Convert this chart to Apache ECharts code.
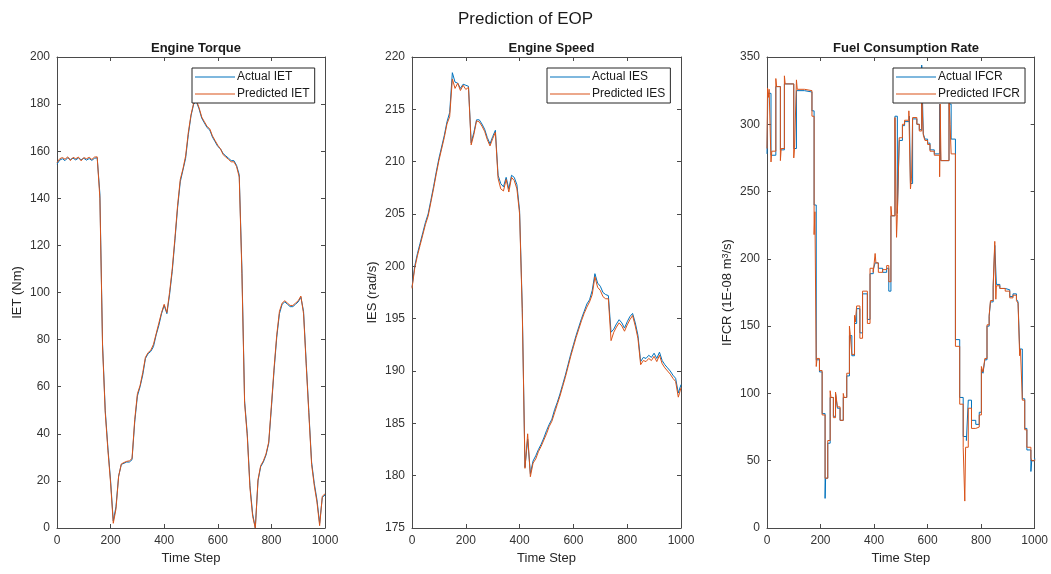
<!DOCTYPE html>
<html>
<head>
<meta charset="utf-8">
<script src="https://cdn.jsdelivr.net/npm/echarts@6/dist/echarts.min.js"></script>
<style>
  html, body { margin: 0; padding: 0; background: #fff; }
  #chart { width: 1051px; height: 574px; }
</style>
</head>
<body>
<div id="chart"></div>
<script>
// Sampling grid for torque and speed (every 10 time steps)
const timeStep = Array.from({ length: 101 }, (_, i) => i * 10);

// Engine torque (Nm)
const torqueActual = [
  154.5,156.2,156.8,156.0,157.2,156.5,157.0,156.3,157.1,156.4,
  157.0,156.2,156.9,156.1,157.0,157.2,142,78,50,34,
  20,3,9,22,27,27.5,28,28,29,45,
  56,60,65,72,74,75,77,82,86,91,
  94.5,91,99,109,122,136,147,152,157,167,
  175,180,181,178,174,172,170,169,166,164,
  162,161,159,158,157,156,156,154,150,110,
  54,40,18,6,0,20,26,28,31,36,
  51,67,81,91,95,96,95,94,94,95,
  96,98,92,70,49,28,19,12,2,13,14
];
const torquePredicted = [
  155.2,156.8,157.3,156.6,157.6,156.0,157.4,156.8,157.5,155.9,
  157.3,156.8,157.4,156.5,157.5,157.6,140,77,49,33,
  19,2,8,22,27.2,27.8,28.3,28.5,29.5,46,
  57,60.5,66,72.5,74.5,75.5,78,82.5,87,91.5,
  95,91.5,100,110,123,137,148,152.5,158,168,
  175.5,180.5,181.5,178.5,174.5,172.5,170.5,169.5,166.5,164.5,
  162.5,161,158.5,157.5,156.5,155.5,155.5,153.5,149,108,
  53,39,17,5,0,20.5,26.5,28.5,31.5,36.5,
  52,68,82,92,95.5,96.5,95.5,94.5,94.5,95.5,
  96.5,98.5,91,69,48,27,18,11,1,13.5,14.5
];

// Engine speed (rad/s)
const speedActual = [
  198.0,200.0,201.2,202.2,203.2,204.2,205.0,206.3,207.6,209.0,
  210.3,211.4,212.5,213.8,214.7,218.5,217.6,217.5,217.0,217.4,
  217.3,217.2,211.8,212.8,214.0,214.0,213.6,213.1,212.3,211.7,
  212.4,213.0,208.7,207.9,207.6,208.5,207.4,208.7,208.5,207.8,
  205.3,196.0,180.8,183.5,180.2,181.4,181.9,182.5,183.0,183.6,
  184.3,184.9,185.4,186.3,187.0,187.8,188.7,189.6,190.6,191.6,
  192.5,193.4,194.2,195.0,195.7,196.4,196.8,197.7,199.3,198.4,
  198.1,197.5,197.3,197.2,193.7,194.0,194.5,194.9,194.6,194.1,
  194.7,195.2,195.5,194.6,193.4,190.9,191.3,191.2,191.5,191.3,
  191.7,191.2,191.8,191.0,190.6,190.3,190.0,189.6,189.3,187.9,188.7
];
const speedPredicted = [
  197.9,199.8,201.0,202.0,203.0,204.0,204.8,206.1,207.4,208.8,
  210.1,211.2,212.3,213.6,214.3,217.9,217.0,217.5,216.8,217.3,
  216.9,217.1,211.6,212.6,213.9,213.8,213.4,212.9,212.1,211.5,
  212.2,212.8,208.4,207.4,207.2,208.3,207.1,208.5,208.2,207.4,
  205.0,195.6,180.7,184.0,179.9,181.2,181.6,182.3,182.8,183.4,
  184.0,184.7,185.2,186.0,186.8,187.6,188.5,189.4,190.4,191.4,
  192.3,193.2,194.0,194.8,195.5,196.1,196.6,197.3,199.0,198.0,
  197.7,197.1,196.9,196.9,192.9,193.7,194.2,194.6,194.3,193.8,
  194.4,194.9,195.3,194.3,193.1,190.6,191.0,190.9,191.2,191.0,
  191.4,190.9,191.5,190.7,190.3,190.0,189.7,189.3,189.0,187.5,188.4
];

// Fuel consumption rate (1E-08 m^3/s): held levels, each starting at the listed time step
const fuelActualT = [
  0,3,15,33,50,65,100,110,140,168,
  176,184,196,206,217,219,227,236,248,256,
  263,273,285,298,308,317,327,335,347,357,
  375,385,397,404,416,432,447,455,463,478,
  487,494,506,514,532,536,544,560,569,578,
  584,590,600,609,625,645,649,680,688,704,
  720,733,745,752,764,780,793,801,807,814,
  822,830,835,845,851,857,870,890,907,919,
  932,938,944,954,963,971,986,989,1000
];
const fuelActual = [
  278,323,277,328,281,330,282,325,324,310,
  240,125,116,85,22,37,63,97,83,100,
  89,80,97,113,143,128,152,163,145,174,
  155,189,192,197,193,190,193,176,232,306,
  234,288,299,302,306,256,304,300,296,344,
  293,289,286,281,278,315,273,315,289,140,
  97,68,65,95,80,77,86,118,115,125,
  150,157,168,179,210,181,178,177,172,174,
  170,168,133,96,74,58,42,50,52
];
const fuelPredT = [
  0,2,6,8,15,18,33,36,50,53,
  65,68,100,103,110,113,140,168,176,179,
  184,187,196,206,217,227,236,239,248,256,
  263,273,285,288,298,308,311,317,327,330,
  335,347,357,375,385,397,404,407,416,432,
  447,455,463,466,478,484,487,494,506,514,
  530,536,540,544,560,569,578,584,590,600,
  609,625,645,647,650,680,684,688,704,720,
  733,739,742,752,764,780,793,801,807,814,
  822,830,835,845,851,855,857,870,890,907,
  919,932,938,944,947,954,963,971,986,989,
  1000
];
const fuelPredicted = [
  282,327,320,326,272,280,334,328,273,282,
  336,330,275,283,333,326,325,306,218,235,
  120,126,117,84,37,65,102,97,82,101,
  90,80,100,97,115,150,144,129,158,153,
  165,141,176,152,193,190,204,197,190,192,
  195,183,239,232,305,216,233,290,300,303,
  310,252,260,305,300,295,320,292,288,285,
  280,277,261,315,273,319,300,278,135,92,
  60,20,60,89,74,75,84,120,116,126,
  151,158,169,180,213,170,180,178,176,171,
  173,169,167,128,133,95,73,60,52,50,
  51
];

const xTicks = { min: 0, max: 1000, interval: 200 };
const panels = [
  { title: 'Engine Torque', yName: 'IET (Nm)', yMin: 0, yMax: 200, yStep: 20,
    names: ['Actual IET', 'Predicted IET'] },
  { title: 'Engine Speed', yName: 'IES (rad/s)', yMin: 175, yMax: 220, yStep: 5,
    names: ['Actual IES', 'Predicted IES'] },
  { title: 'Fuel Consumption Rate', yName: 'IFCR (1E-08 m{sup|3}/s)', yMin: 0, yMax: 350, yStep: 50,
    names: ['Actual IFCR', 'Predicted IFCR'] }
];

const gridBoxes = [
  { left: 57, top: 57, width: 268, height: 471 },
  { left: 412, top: 57, width: 269, height: 471 },
  { left: 767, top: 57, width: 268, height: 471 }
];
const legendPos = [{ left: 192, top: 68 }, { left: 547, top: 68 }, { left: 893, top: 68 }];

const FONT = '"Liberation Sans", Arial, Helvetica, sans-serif';
const AX = '#4a4a4a';
const BLUE = '#0072BD';
const ORANGE = '#D95319';

const pairs = (xs, ys) => xs.map((x, i) => [x, ys[i]]);
const plainNumber = v => String(v);

const axisBase = {
  axisLine: { show: true, onZero: false, lineStyle: { color: AX, width: 1 } },
  axisTick: { show: true, inside: true, length: 4, lineStyle: { color: AX, width: 1 } },
  splitLine: { show: false }
};

const xAxes = [], yAxes = [], series = [], titles = [], legends = [];

titles.push({
  text: 'Prediction of EOP', left: 'center', top: 6,
  textStyle: { fontFamily: FONT, fontSize: 17, fontWeight: 'normal', color: '#1a1a1a' }
});

panels.forEach((p, i) => {
  const g = gridBoxes[i];
  titles.push({
    text: p.title, left: g.left + g.width / 2, top: 37, textAlign: 'center',
    textStyle: { fontFamily: FONT, fontSize: 13, fontWeight: 'bold', color: '#1a1a1a' }
  });
  xAxes.push(Object.assign({}, axisBase, xTicks, {
    type: 'value', gridIndex: i, position: 'bottom',
    name: 'Time Step', nameLocation: 'middle', nameGap: 24,
    nameTextStyle: { fontFamily: FONT, fontSize: 13, color: '#262626' },
    axisLabel: { fontFamily: FONT, fontSize: 12, color: '#333', margin: 7, formatter: plainNumber }
  }));
  xAxes.push(Object.assign({}, axisBase, xTicks, {
    type: 'value', gridIndex: i, position: 'top', axisLabel: { show: false }
  }));
  yAxes.push(Object.assign({}, axisBase, {
    type: 'value', gridIndex: i, position: 'left',
    min: p.yMin, max: p.yMax, interval: p.yStep,
    name: p.yName, nameLocation: 'middle', nameGap: 33,
    nameTextStyle: { fontFamily: FONT, fontSize: 13, color: '#262626',
      rich: { sup: { fontFamily: FONT, fontSize: 9, color: '#262626', verticalAlign: 'top', lineHeight: 10 } } },
    axisLabel: { fontFamily: FONT, fontSize: 12, color: '#333', margin: 7, formatter: plainNumber }
  }));
  yAxes.push(Object.assign({}, axisBase, {
    type: 'value', gridIndex: i, position: 'right',
    min: p.yMin, max: p.yMax, interval: p.yStep, axisLabel: { show: false }
  }));
  legends.push({
    left: legendPos[i].left, top: legendPos[i].top, orient: 'vertical',
    data: p.names, icon: 'rect', itemWidth: 40, itemHeight: 1.2, itemGap: 5,
    borderColor: '#262626', borderWidth: 1, backgroundColor: '#fff',
    padding: [3, 5, 3, 3], selectedMode: false,
    textStyle: { fontFamily: FONT, fontSize: 12, color: '#1a1a1a', padding: [0, 0, 0, -3] }
  });
});

function addLine(i, name, data, color, step) {
  series.push({
    type: 'line', name, data, xAxisIndex: i * 2, yAxisIndex: i * 2,
    symbol: 'none', step: step || false, color,
    lineStyle: { color, width: 1 }, animation: false, clip: true
  });
}

addLine(0, 'Actual IET', pairs(timeStep, torqueActual), BLUE);
addLine(0, 'Predicted IET', pairs(timeStep, torquePredicted), ORANGE);
addLine(1, 'Actual IES', pairs(timeStep, speedActual), BLUE);
addLine(1, 'Predicted IES', pairs(timeStep, speedPredicted), ORANGE);
addLine(2, 'Actual IFCR', pairs(fuelActualT, fuelActual), BLUE, 'end');
addLine(2, 'Predicted IFCR', pairs(fuelPredT, fuelPredicted), ORANGE, 'end');

const chart = echarts.init(document.getElementById('chart'), null, { renderer: 'canvas' });
chart.setOption({
  backgroundColor: '#fff',
  animation: false,
  title: titles,
  legend: legends,
  grid: gridBoxes,
  xAxis: xAxes,
  yAxis: yAxes,
  series
});
</script>
</body>
</html>
